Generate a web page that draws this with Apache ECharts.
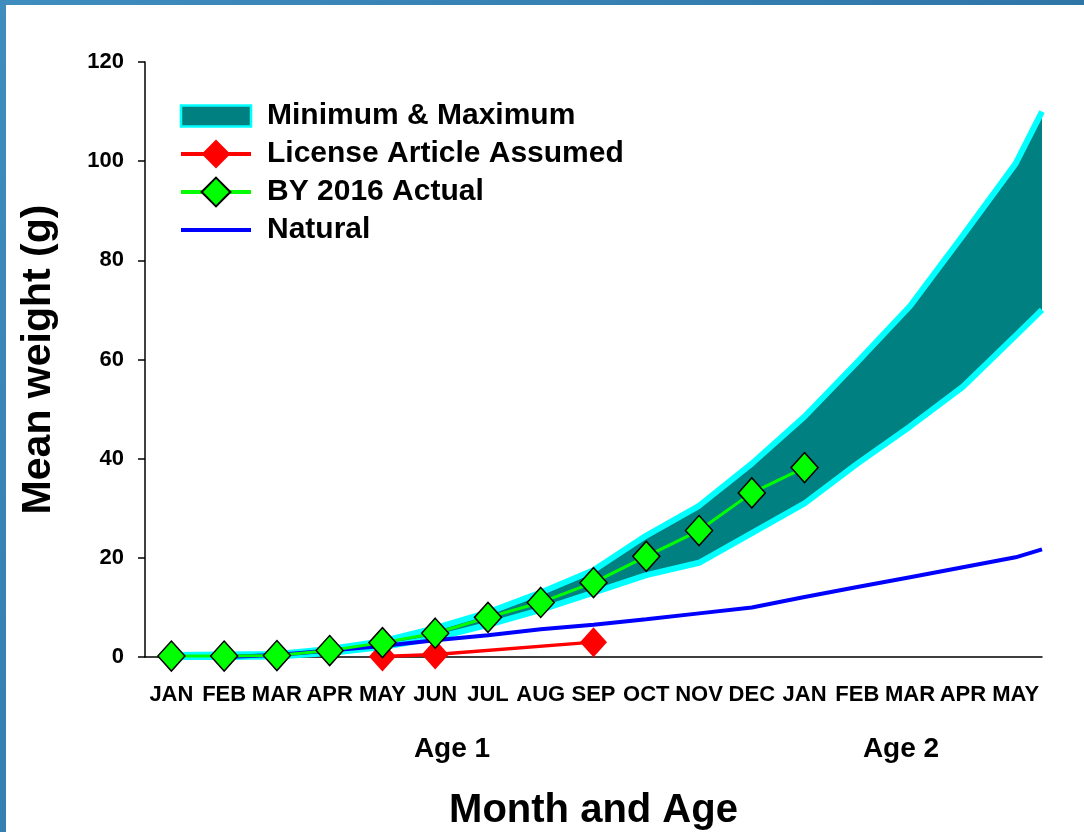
<!DOCTYPE html>
<html>
<head>
<meta charset="utf-8">
<title>Mean weight by month and age</title>
<script src="https://cdn.jsdelivr.net/npm/echarts@6.0.0/dist/echarts.min.js"></script>
<style>
    html, body { margin: 0; padding: 0; }
    #main { width: 1084px; height: 832px; }
</style>
</head>
<body>
<div id="main"></div>
<script>
// month labels (Age 1 runs JAN..DEC, Age 2 from the second JAN)
var months = ['JAN', 'FEB', 'MAR', 'APR', 'MAY', 'JUN', 'JUL', 'AUG', 'SEP', 'OCT', 'NOV', 'DEC', 'JAN', 'FEB', 'MAR', 'APR', 'MAY'];

// min / max band, last point sits on the right end of the axis
var bandPos = [0, 1, 2, 3, 4, 5, 6, 7, 8, 9, 10, 11, 12, 13, 14, 15, 16, 16.5];
var bandMin = [0, 0, 0.1, 0.8, 2, 3.8, 6.5, 9.5, 13, 16.5, 19, 25, 31, 39, 46.5, 54.5, 64.8, 70];
var bandMax = [0.4, 0.5, 0.6, 1.6, 3.2, 5.8, 9, 13, 17.5, 24.5, 30.5, 39, 48.5, 59.5, 70.8, 85, 99.5, 110];

// license article assumed
var licensePos = [4, 5, 8];
var licenseVal = [0.1, 0.5, 3.0];

// BY 2016 actual
var actualPos = [0, 1, 2, 3, 4, 5, 6, 7, 8, 9, 10, 11, 12];
var actualVal = [0.2, 0.2, 0.3, 1.3, 2.9, 4.8, 8.0, 11.0, 15.0, 20.3, 25.5, 33.1, 38.2];

// natural
var naturalPos = [1, 2, 3, 4, 5, 6, 7, 8, 9, 10, 11, 12, 13, 14, 15, 16, 16.5];
var naturalVal = [0, 0.4, 1.3, 2.2, 3.4, 4.4, 5.6, 6.5, 7.6, 8.8, 10, 12.1, 14.1, 16.1, 18.1, 20.1, 21.7];

var yTicks = {min: 0, max: 120, step: 20};

var FONT = '"Liberation Sans", Arial, sans-serif';

var pairs = function (xs, ys) {
    return xs.map(function (x, i) {
        return [x, ys[i]];
    });
};

var chart = echarts.init(document.getElementById('main'), null, {renderer: 'canvas'});

// teal fill between min and max, drawn once as a single polygon
var renderBand = function (params, api) {
    if (params.dataIndex !== 0) {
        return null;
    }
    var pts = [];
    bandPos.forEach(function (x, i) {
        pts.push(api.coord([x, bandMax[i]]));
    });
    for (var i = bandPos.length - 1; i >= 0; i--) {
        pts.push(api.coord([bandPos[i], bandMin[i]]));
    }
    return {
        type: 'polygon',
        shape: {points: pts},
        style: {fill: '#008080'}
    };
};

var option = {
    animation: false,
    backgroundColor: new echarts.graphic.LinearGradient(0, 0, 1, 1, [
        {offset: 0, color: '#3f8cbf'},
        {offset: 0.6, color: '#2f77a8'},
        {offset: 1, color: '#1f6a7a'}
    ]),
    graphic: [
        {
            type: 'rect', left: 6, top: 5, z: -10,
            shape: {width: 1078, height: 827},
            style: {fill: '#ffffff'}
        },
        {
            type: 'text', x: 452, y: 749,
            style: {
                text: 'Age 1', font: 'bold 28px ' + FONT, fill: '#000',
                align: 'center', verticalAlign: 'middle',
                textAlign: 'center', textVerticalAlign: 'middle'
            }
        },
        {
            type: 'text', x: 901, y: 749,
            style: {
                text: 'Age 2', font: 'bold 28px ' + FONT, fill: '#000',
                align: 'center', verticalAlign: 'middle',
                textAlign: 'center', textVerticalAlign: 'middle'
            }
        }
    ],
    grid: {left: 145, right: 42, top: 62, bottom: 175, outerBoundsMode: 'none'},
    legend: {
        left: 179,
        top: 98,
        padding: 0,
        orient: 'vertical',
        itemWidth: 70,
        itemHeight: 36,
        itemGap: 2,
        selectedMode: false,
        lineStyle: {width: 4},
        textStyle: {
            fontFamily: FONT, fontWeight: 'bold', fontSize: 30, color: '#000',
            lineHeight: 36,
            padding: [0, 0, 0, 11]
        },
        data: [
            {
                name: 'Minimum & Maximum',
                icon: 'path://M0,0h70v21h-70z',
                itemStyle: {color: '#008080', borderColor: '#00ffff', borderWidth: 2.5}
            },
            {name: 'License Article Assumed'},
            {name: 'BY 2016 Actual'},
            {name: 'Natural', icon: 'path://M0,0h70v4h-70z'}
        ]
    },
    xAxis: [
        {
            type: 'category',
            data: months,
            boundaryGap: true,
            name: 'Month and Age',
            nameLocation: 'middle',
            nameGap: 134,
            nameTextStyle: {fontFamily: FONT, fontWeight: 'bold', fontSize: 40, color: '#000'},
            axisLine: {lineStyle: {color: '#000', width: 1.5}},
            axisTick: {alignWithLabel: true, length: 10, lineStyle: {color: '#000', width: 1.5}},
            axisLabel: {
                interval: 0, margin: 27, color: '#000',
                fontFamily: FONT, fontWeight: 'bold', fontSize: 22
            },
            splitLine: {show: false}
        },
        {
            type: 'value',
            min: -0.5,
            max: 16.5,
            show: false,
            splitLine: {show: false}
        }
    ],
    yAxis: {
        type: 'value',
        min: yTicks.min,
        max: yTicks.max,
        interval: yTicks.step,
        name: 'Mean weight (g)',
        nameLocation: 'middle',
        nameRotate: 90,
        nameGap: 86,
        nameTextStyle: {fontFamily: FONT, fontWeight: 'bold', fontSize: 41, color: '#000'},
        axisLine: {show: true, onZero: false, lineStyle: {color: '#000', width: 1.5}},
        axisTick: {show: true, length: 7, lineStyle: {color: '#000', width: 1.5}},
        axisLabel: {margin: 21, color: '#000', fontFamily: FONT, fontWeight: 'bold', fontSize: 22},
        splitLine: {show: false}
    },
    series: [
        {
            name: 'Minimum & Maximum',
            type: 'custom',
            xAxisIndex: 1,
            z: 1,
            renderItem: renderBand,
            itemStyle: {color: '#008080'},
            data: pairs(bandPos, bandMax)
        },
        {
            name: 'Minimum & Maximum',
            type: 'line',
            xAxisIndex: 1,
            z: 2,
            symbol: 'none',
            lineStyle: {color: '#00ffff', width: 6},
            itemStyle: {color: '#00ffff'},
            data: pairs(bandPos, bandMin)
        },
        {
            name: 'Minimum & Maximum',
            type: 'line',
            xAxisIndex: 1,
            z: 2,
            symbol: 'none',
            lineStyle: {color: '#00ffff', width: 6},
            itemStyle: {color: '#00ffff'},
            data: pairs(bandPos, bandMax)
        },
        {
            name: 'Natural',
            type: 'line',
            xAxisIndex: 1,
            z: 3,
            symbol: 'none',
            lineStyle: {color: '#0000ff', width: 4},
            itemStyle: {color: '#0000ff'},
            data: pairs(naturalPos, naturalVal)
        },
        {
            name: 'License Article Assumed',
            type: 'line',
            xAxisIndex: 1,
            z: 4,
            symbol: 'diamond',
            symbolSize: [27, 30],
            lineStyle: {color: '#ff0000', width: 3.5},
            itemStyle: {color: '#ff0000'},
            data: pairs(licensePos, licenseVal)
        },
        {
            name: 'BY 2016 Actual',
            type: 'line',
            xAxisIndex: 1,
            z: 5,
            symbol: 'diamond',
            symbolSize: [27, 30],
            lineStyle: {color: '#00ff00', width: 3},
            itemStyle: {color: '#00ff00', borderColor: '#000', borderWidth: 1.5},
            data: pairs(actualPos, actualVal)
        }
    ]
};

chart.setOption(option);
</script>
</body>
</html>
